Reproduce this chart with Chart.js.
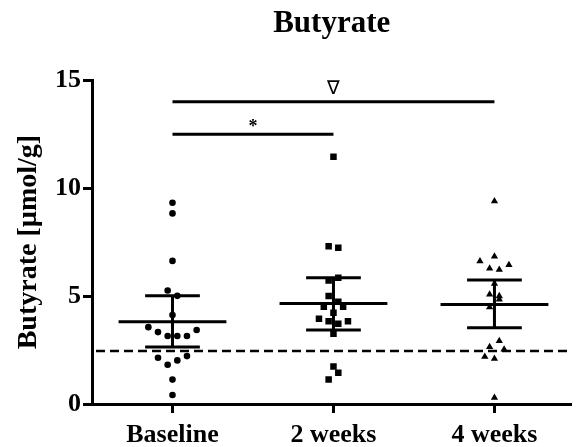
<!DOCTYPE html>
<html>
<head>
<meta charset="utf-8">
<script src="https://cdn.jsdelivr.net/npm/chart.js@4.4.0/dist/chart.umd.min.js"></script>
<style>
  html, body { margin: 0; padding: 0; background: #fff; }
  #wrap { width: 576px; height: 447px; }
</style>
</head>
<body>
<div id="wrap"><canvas id="butyrateChart" width="576" height="447"></canvas></div>
<script>
// groups on the x axis
const groups = ['Baseline', '2 weeks', '4 weeks'];

// individual values (µmol/g), with their horizontal jitter (category units)
const baselineValues = [9.32, 8.83, 6.63, 5.26, 5.01, 4.12, 3.56, 3.33, 3.15, 3.15, 3.15, 3.43, 2.14, 1.82, 2.02, 2.22, 1.13, 0.42];
const baselineJitter = [0, 0, 0, -0.03, 0.03, 0, -0.15, -0.09, -0.03, 0.03, 0.09, 0.15, -0.09, -0.03, 0.03, 0.09, 0, 0];

const week2Values = [11.45, 7.31, 7.24, 5.85, 5.72, 5.0, 4.74, 4.5, 4.5, 4.23, 3.95, 3.83, 3.72, 3.83, 3.26, 1.74, 1.45, 1.13];
const week2Jitter = [0, -0.03, 0.03, 0.03, -0.03, -0.03, 0.03, -0.06, 0.06, 0, -0.09, -0.03, 0.03, 0.09, 0, 0, 0.03, -0.03];

const week4Values = [9.4, 6.62, 6.84, 6.44, 6.28, 6.22, 5.57, 5.08, 5.0, 4.85, 4.49, 2.92, 2.64, 2.53, 2.19, 2.1, 0.29];
const week4Jitter = [0, -0.09, 0, 0.09, -0.03, 0.03, 0, -0.03, 0.03, 0.03, -0.03, 0.03, -0.03, 0.06, -0.06, 0, 0];

// mean and error bar ends per group
const means = [3.81, 4.65, 4.61];
const upper = [5.01, 5.85, 5.74];
const lower = [2.64, 3.43, 3.53];

// reference level (dashed line)
const refLevel = 2.45;

// significance brackets
const sigBars = [
  { from: 0, to: 2, y: 14, label: '\u2207' },
  { from: 0, to: 1, y: 12.5, label: '*' }
];

const yTicks = [0, 5, 10, 15];

const serif = "'Liberation Serif', 'DejaVu Serif', serif";

function toPoints(values, jitter, idx) {
  return values.map((v, i) => ({ x: idx + jitter[i], y: v }));
}

// mean line, error bars, dashed reference and brackets
const overlayPlugin = {
  id: 'overlay',
  afterDatasetsDraw(chart) {
    const { ctx, chartArea, scales: { x, y } } = chart;
    ctx.save();
    ctx.strokeStyle = '#000';
    ctx.lineCap = 'butt';

    // dashed reference line
    ctx.lineWidth = 2.5;
    ctx.setLineDash([9, 5]);
    ctx.beginPath();
    ctx.moveTo(chartArea.left + 4, y.getPixelForValue(refLevel));
    ctx.lineTo(chartArea.right, y.getPixelForValue(refLevel));
    ctx.stroke();
    ctx.setLineDash([]);

    // mean and error bars
    ctx.lineWidth = 3;
    groups.forEach((g, i) => {
      const cx = x.getPixelForValue(i);
      const meanHalf = x.getPixelForValue(i + 0.335) - cx;
      const capHalf = x.getPixelForValue(i + 0.17) - cx;
      const ym = y.getPixelForValue(means[i]);
      const yu = y.getPixelForValue(upper[i]);
      const yl = y.getPixelForValue(lower[i]);
      ctx.beginPath();
      ctx.moveTo(cx - meanHalf, ym); ctx.lineTo(cx + meanHalf, ym);
      ctx.moveTo(cx - capHalf, yu); ctx.lineTo(cx + capHalf, yu);
      ctx.moveTo(cx - capHalf, yl); ctx.lineTo(cx + capHalf, yl);
      ctx.moveTo(cx, yu); ctx.lineTo(cx, yl);
      ctx.stroke();
    });

    // significance brackets
    ctx.fillStyle = '#000';
    ctx.textAlign = 'center';
    ctx.textBaseline = 'bottom';
    sigBars.forEach(b => {
      const x1 = x.getPixelForValue(b.from);
      const x2 = x.getPixelForValue(b.to);
      const yy = y.getPixelForValue(b.y);
      ctx.beginPath();
      ctx.moveTo(x1, yy); ctx.lineTo(x2, yy);
      ctx.stroke();
      ctx.font = b.label === '*' ? "bold 18px " + serif : "19px 'DejaVu Sans', sans-serif";
      ctx.fillText(b.label, (x1 + x2) / 2, yy - (b.label === '*' ? -2 : 3));
    });
    ctx.restore();
  }
};

const ctx = document.getElementById('butyrateChart');
new Chart(ctx.getContext('2d'), {
  type: 'scatter',
  data: {
    datasets: [
      {
        label: groups[0],
        data: toPoints(baselineValues, baselineJitter, 0),
        pointStyle: 'circle',
        pointRadius: 3.3,
        backgroundColor: '#000',
        borderWidth: 0
      },
      {
        label: groups[1],
        data: toPoints(week2Values, week2Jitter, 1),
        pointStyle: 'rect',
        pointRadius: 4.6,
        backgroundColor: '#000',
        borderWidth: 0
      },
      {
        label: groups[2],
        data: toPoints(week4Values, week4Jitter, 2),
        pointStyle: 'triangle',
        pointRadius: 4.2,
        backgroundColor: '#000',
        borderWidth: 0
      }
    ]
  },
  plugins: [overlayPlugin],
  options: {
    responsive: false,
    animation: false,
    devicePixelRatio: 1,
    layout: { padding: { left: 0, right: 0, top: 0, bottom: 0 } },
    plugins: {
      legend: { display: false },
      tooltip: { enabled: false },
      title: {
        display: true,
        text: 'Butyrate',
        fullSize: false,
        color: '#000',
        font: { family: serif, size: 31, weight: 'bold' },
        padding: { top: 5, bottom: 38 }
      }
    },
    scales: {
      x: {
        type: 'linear',
        min: -0.5,
        max: 2.478,
        afterBuildTicks: (scale) => { scale.ticks = groups.map((g, i) => ({ value: i })); },
        afterFit: (scale) => { scale.height = 43; },
        ticks: {
          color: '#000',
          padding: 7,
          font: { family: serif, size: 26, weight: 'bold' },
          callback: (v) => groups[v]
        },
        grid: { drawOnChartArea: false, drawTicks: true, tickLength: 9, tickWidth: 3, color: '#000' },
        border: { color: '#000', width: 3 }
      },
      y: {
        min: 0,
        max: 15,
        afterBuildTicks: (scale) => { scale.ticks = yTicks.map(v => ({ value: v })); },
        afterFit: (scale) => { scale.width = 92; },
        ticks: {
          color: '#000',
          padding: 2,
          font: { family: serif, size: 26, weight: 'bold' }
        },
        title: {
          display: true,
          text: 'Butyrate [\u00b5mol/g]',
          color: '#000',
          font: { family: serif, size: 28, weight: 'bold' },
          padding: { top: 12, bottom: 0 }
        },
        grid: { drawOnChartArea: false, drawTicks: true, tickLength: 9, tickWidth: 3, color: '#000' },
        border: { color: '#000', width: 3 }
      }
    }
  }
});
</script>
</body>
</html>
